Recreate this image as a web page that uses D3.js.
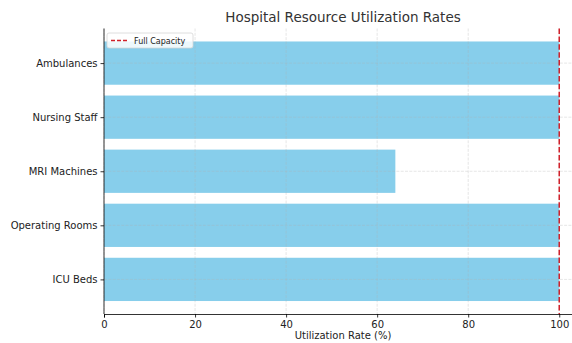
<!DOCTYPE html>
<html>
<head>
<meta charset="utf-8">
<script src="https://cdn.jsdelivr.net/npm/d3@7"></script>
<style>
  html, body { margin: 0; padding: 0; background: #fff; }
  svg { display: block; font-family: "DejaVu Sans", sans-serif; }
</style>
</head>
<body>
<svg id="chart" width="572" height="343"></svg>
<script>
// Resources listed bottom-to-top as they appear on the y axis
const resources = ["ICU Beds", "Operating Rooms", "MRI Machines", "Nursing Staff", "Ambulances"];
const utilization = [100, 100, 64, 100, 100];
const xTicks = [0, 20, 40, 60, 80, 100];
const capacityLine = 100;

const svg = d3.select("#chart");
const margin = { left: 104, right: -10, top: 28.5, bottom: 29 };
const W = 572, H = 343;
const innerW = W - margin.left - margin.right;
const innerH = H - margin.top - margin.bottom;

const x = d3.scaleLinear().domain([0, 105]).range([margin.left, margin.left + innerW]);
// band layout mimicking a barh with 0.8 bar height and 5% vertical margins
const n = resources.length;
const yPos = d3.scaleLinear().domain([-0.64, n - 1 + 0.64]).range([margin.top + innerH, margin.top]);
const barH = yPos(0) - yPos(0.8);

// bars
svg.append("g").selectAll("rect")
  .data(resources)
  .join("rect")
  .attr("x", x(0))
  .attr("y", (d, i) => yPos(i + 0.4))
  .attr("width", (d, i) => x(utilization[i]) - x(0))
  .attr("height", barH)
  .attr("fill", "#87ceeb");

// dashed grid drawn over the bars
const grid = svg.append("g").attr("stroke", "#b0b0b0").attr("stroke-opacity", 0.4)
  .attr("stroke-width", 0.8).attr("stroke-dasharray", "3,1.3");
grid.selectAll("line.v").data(xTicks).join("line").attr("class", "v")
  .attr("x1", d => x(d)).attr("x2", d => x(d))
  .attr("y1", margin.top).attr("y2", margin.top + innerH);
grid.selectAll("line.h").data(resources).join("line").attr("class", "h")
  .attr("x1", margin.left).attr("x2", margin.left + innerW)
  .attr("y1", (d, i) => yPos(i)).attr("y2", (d, i) => yPos(i));

// full capacity line
svg.append("line")
  .attr("x1", x(capacityLine)).attr("x2", x(capacityLine))
  .attr("y1", margin.top).attr("y2", margin.top + innerH)
  .attr("stroke", "#d0202a").attr("stroke-width", 1.5)
  .attr("stroke-dasharray", "5.5,2.4");

// x axis
const xAxis = d3.axisBottom(x).tickValues(xTicks).tickSize(3.5).tickPadding(3);
const gx = svg.append("g").attr("transform", `translate(0,${margin.top + innerH})`).call(xAxis);
gx.select(".domain").attr("stroke", "#000").attr("stroke-width", 0.8);
gx.selectAll(".tick line").attr("stroke", "#000").attr("stroke-width", 0.8);
gx.selectAll(".tick text").attr("font-size", 10).attr("fill", "#222")
  .attr("font-family", "DejaVu Sans");

// y axis
const yAxis = d3.axisLeft(yPos).tickValues(d3.range(n)).tickFormat(i => resources[i])
  .tickSize(3.5).tickPadding(3);
const gy = svg.append("g").attr("transform", `translate(${margin.left},0)`).call(yAxis);
gy.select(".domain").attr("d", `M0,${margin.top}V${margin.top + innerH}`)
  .attr("stroke", "#000").attr("stroke-width", 0.8);
gy.selectAll(".tick line").attr("stroke", "#000").attr("stroke-width", 0.8);
gy.selectAll(".tick text").attr("font-size", 10).attr("fill", "#222")
  .attr("font-family", "DejaVu Sans");

// axis label
svg.append("text")
  .attr("x", (x(0) + x(105)) / 2).attr("y", 339)
  .attr("text-anchor", "middle").attr("font-size", 10).attr("fill", "#222")
  .text("Utilization Rate (%)");

// title
svg.append("text")
  .attr("x", (x(0) + x(105)) / 2).attr("y", 22)
  .attr("text-anchor", "middle").attr("font-size", 13.5).attr("fill", "#333")
  .text("Hospital Resource Utilization Rates");

// legend
const lg = svg.append("g").attr("transform", `translate(${margin.left + 3},${margin.top + 4.5})`);
lg.append("rect").attr("width", 86).attr("height", 15).attr("rx", 2)
  .attr("fill", "#fff").attr("fill-opacity", 0.85)
  .attr("stroke", "#d6d6d6").attr("stroke-width", 0.8);
lg.append("line").attr("x1", 4).attr("x2", 20).attr("y1", 7.5).attr("y2", 7.5)
  .attr("stroke", "#d0202a").attr("stroke-width", 1.5).attr("stroke-dasharray", "4,2");
lg.append("text").attr("x", 27).attr("y", 10.5).attr("font-size", 8).attr("fill", "#222")
  .text("Full Capacity");
</script>
</body>
</html>
